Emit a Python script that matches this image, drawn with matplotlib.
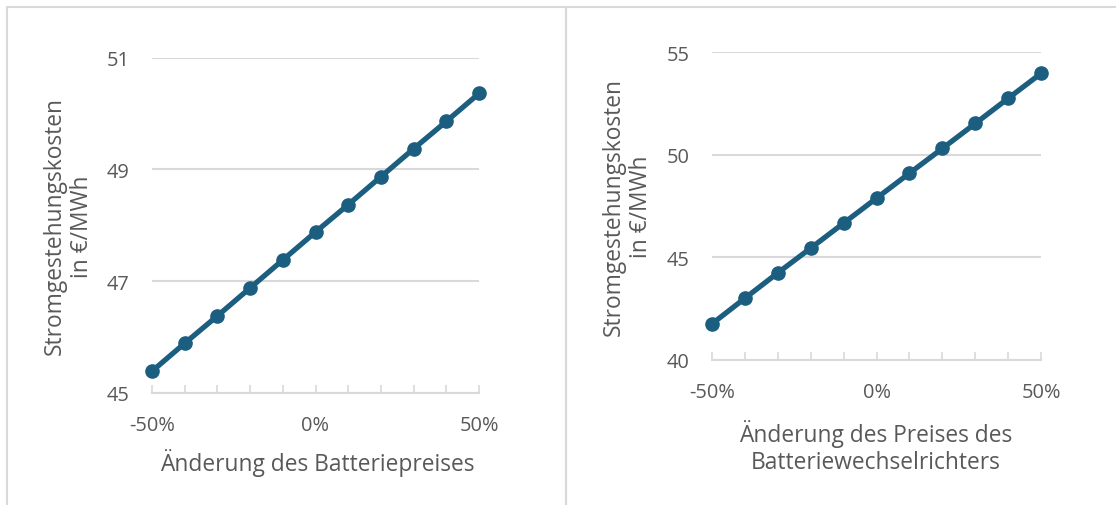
import numpy as np
import matplotlib.pyplot as plt
from matplotlib.patches import Rectangle
from matplotlib.ticker import FuncFormatter

plt.rcParams['font.family'] = ['Open Sans', 'DejaVu Sans']

# Daten
aenderung = [-50, -40, -30, -20, -10, 0, 10, 20, 30, 40, 50]
kosten_batterie = [45.39, 45.89, 46.38, 46.88, 47.38, 47.88, 48.37, 48.87, 49.37, 49.86, 50.36]
kosten_wechselrichter = [41.74, 42.99, 44.23, 45.44, 46.66, 47.88, 49.10, 50.31, 51.53, 52.76, 53.98]

farbe = '#1B5E80'
grau = '#595959'
gitter = '#D9D9D9'

fig = plt.figure(figsize=(11.16, 5.06), dpi=100)

# Rahmen der beiden Diagramme
W, H = 1116, 506
for x0, x1 in [(7, 566), (566, 1130)]:
    fig.patches.append(Rectangle((x0 / W, -0.1), (x1 - x0) / W, (H - 8) / H + 0.1,
                                 transform=fig.transFigure, fill=False,
                                 edgecolor=gitter, linewidth=1.5))


def diagramm(ax, y, ylim, yticks, xlabel, xlab_pos):
    ax.plot(aenderung, y, '-o', color=farbe, linewidth=3.8, markersize=9.5, zorder=3, clip_on=False)
    ax.set_xlim(-50, 50)
    ax.set_ylim(*ylim)
    ax.set_yticks(yticks)
    ax.set_xticks([-50, 0, 50])
    ax.set_xticks(aenderung, minor=True)
    ax.xaxis.set_major_formatter(FuncFormatter(lambda v, p: f'{v:.0f}%'))
    ax.grid(axis='y', color=gitter, linewidth=1.5)
    ax.set_axisbelow(True)
    for s in ['top', 'right', 'left']:
        ax.spines[s].set_visible(False)
    ax.spines['bottom'].set_color(gitter)
    ax.spines['bottom'].set_linewidth(1.5)
    ax.tick_params(axis='y', length=0, pad=16, labelsize=14.4, labelcolor=grau)
    ax.tick_params(axis='x', which='both', direction='in', length=6, width=1.2,
                   color=gitter, pad=16, labelsize=14.4, labelcolor=grau)
    ax.set_ylabel('Stromgestehungskosten\nin €/MWh', fontsize=16.4, color=grau, linespacing=1.2)
    ax.yaxis.label.set_va('center')
    ax.yaxis.set_label_coords(-0.255, 0.5)
    ax.set_xlabel(xlabel, fontsize=16.4, color=grau, linespacing=1.2)
    ax.xaxis.label.set_va('center')
    ax.xaxis.set_label_coords(*xlab_pos)


ax1 = fig.add_axes([152 / W, (H - 394) / H, 327 / W, 335.3 / H])
diagramm(ax1, kosten_batterie, (45, 51), [45, 47, 49, 51],
         'Änderung des Batteriepreises', (0.505, -0.206))

ax2 = fig.add_axes([711.7 / W, (H - 360.7) / H, 329.6 / W, 307.4 / H])
diagramm(ax2, kosten_wechselrichter, (40, 55), [40, 45, 50, 55],
         'Änderung des Preises des\nBatteriewechselrichters', (0.4985, -0.282))

fig.savefig('out.png', dpi=100)
